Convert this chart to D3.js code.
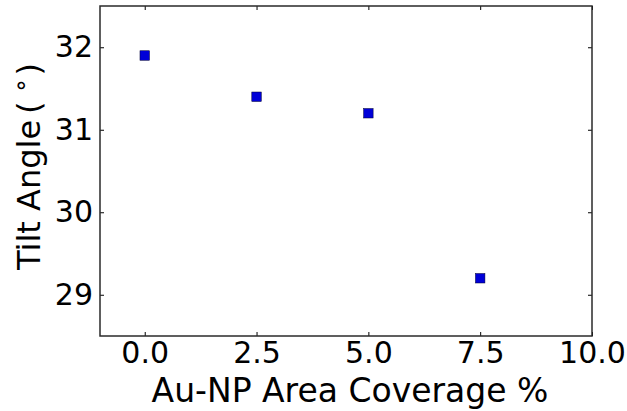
<!DOCTYPE html>
<html>
<head>
<meta charset="utf-8">
<script src="https://cdn.jsdelivr.net/npm/d3@7"></script>
<style>
  body { margin: 0; background: #fff; }
  text { font-family: "DejaVu Sans", sans-serif; fill: #000; }
</style>
</head>
<body>
<script>
  // data
  const coverage = [0, 2.5, 5, 7.5];
  const tiltAngle = [31.9, 31.4, 31.2, 29.2];
  const xTicks = [0, 2.5, 5, 7.5, 10];
  const yTicks = [29, 30, 31, 32];

  const W = 627, H = 411;
  const margin = { top: 6, right: 35, bottom: 75, left: 100 };
  const width = W - margin.left - margin.right;
  const height = H - margin.top - margin.bottom;

  const svg = d3.select("body").append("svg")
    .attr("width", W)
    .attr("height", H);

  const g = svg.append("g")
    .attr("transform", "translate(" + margin.left + "," + margin.top + ")");

  const x = d3.scaleLinear().domain([-1, 10]).range([0, width]);
  const y = d3.scaleLinear().domain([28.5, 32.5]).range([height, 0]);

  // axes, ticks pointing inward on all four sides
  const tickLen = 4;
  const xAxisB = g.append("g")
    .attr("transform", "translate(0," + height + ")")
    .call(d3.axisBottom(x).tickValues(xTicks).tickFormat(d3.format(".1f"))
      .tickSizeInner(-tickLen).tickSizeOuter(0).tickPadding(6));
  const xAxisT = g.append("g")
    .call(d3.axisTop(x).tickValues(xTicks).tickFormat("")
      .tickSizeInner(-tickLen).tickSizeOuter(0));
  const yAxisL = g.append("g")
    .call(d3.axisLeft(y).tickValues(yTicks).tickFormat(d3.format("d"))
      .tickSizeInner(-tickLen).tickSizeOuter(0).tickPadding(7));
  const yAxisR = g.append("g")
    .attr("transform", "translate(" + width + ",0)")
    .call(d3.axisRight(y).tickValues(yTicks).tickFormat("")
      .tickSizeInner(-tickLen).tickSizeOuter(0));

  [xAxisB, xAxisT, yAxisL, yAxisR].forEach(a => {
    a.select(".domain").remove();
    a.selectAll(".tick line").attr("stroke", "#000").attr("stroke-width", 1);
    a.selectAll(".tick text").style("font-size", "30px").style("font-family", "DejaVu Sans");
  });

  // frame
  g.append("rect")
    .attr("width", width)
    .attr("height", height)
    .attr("fill", "none")
    .attr("stroke", "#2a2a2a")
    .attr("stroke-width", 1.5);

  // points
  const s = 9.5;
  g.selectAll(".pt")
    .data(coverage.map((c, i) => ({ x: c, y: tiltAngle[i] })))
    .enter().append("rect")
    .attr("class", "pt")
    .attr("x", d => x(d.x) - s / 2)
    .attr("y", d => y(d.y) - s / 2)
    .attr("width", s)
    .attr("height", s)
    .attr("fill", "#0000d8")
    .attr("stroke", "#000033")
    .attr("stroke-width", 0.5);

  // axis labels
  svg.append("text")
    .attr("x", 350)
    .attr("y", 402)
    .attr("text-anchor", "middle")
    .style("font-size", "33px")
    .text("Au-NP Area Coverage %");

  const yl = svg.append("text")
    .attr("transform", "translate(40,270) rotate(-90)")
    .attr("text-anchor", "start")
    .style("font-size", "32px");
  yl.append("tspan").text("Tilt Angle");
  yl.append("tspan").attr("dx", 6).text("(");
  yl.append("tspan").attr("dx", 10).attr("dy", -4).style("font-size", "24px").text("\u00B0");
  yl.append("tspan").attr("dx", 4).attr("dy", 4).text(")");
</script>
</body>
</html>
